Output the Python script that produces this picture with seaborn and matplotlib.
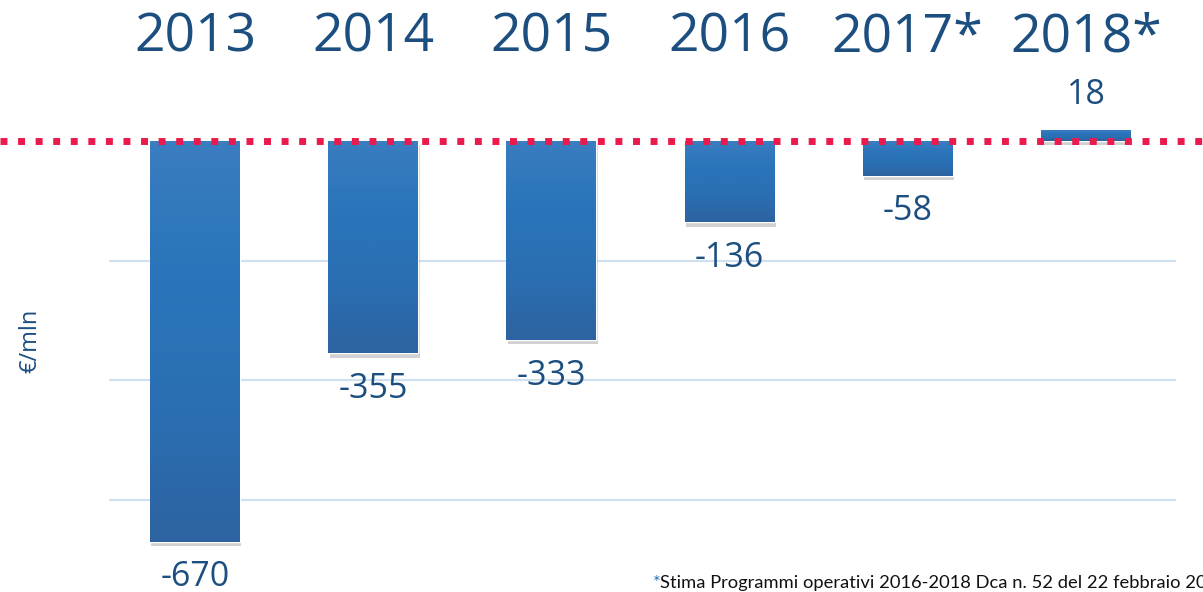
import numpy as np
import pandas as pd
import matplotlib
matplotlib.use("Agg")
import matplotlib.pyplot as plt
import matplotlib.patheffects as pe
from matplotlib.colors import LinearSegmentedColormap
import seaborn as sns

# ─── DATA ─────────────────────────────────────────────────
years = ["2013", "2014", "2015", "2016", "2017*", "2018*"]
values = [-670, -355, -333, -136, -58, 18]
grid_levels = [-200, -400, -600]
ylabel = "€/mln"
footnote = "Stima Programmi operativi 2016-2018 Dca n. 52 del 22 febbraio 2017"

df = pd.DataFrame({"year": years, "value": values})

# ─── STYLE ────────────────────────────────────────────────
sns.set_style("white")
plt.rcParams["font.family"] = ["Open Sans", "DejaVu Sans"]

TEXT_BLUE = "#1c4f80"
BAR_MID = "#2a71b8"
RED = "#ea1a4c"
GRID = "#cfe0f0"

fig = plt.figure(figsize=(12.03, 5.92), dpi=100)
ax = fig.add_axes([0, 0, 1, 1])

sns.barplot(data=df, x="year", y="value", color=BAR_MID, width=0.505,
            saturation=1, ax=ax, zorder=3)

# gradient fill + soft shadow on each bar
grad = LinearSegmentedColormap.from_list(
    "bar", ["#2d63a0", "#2a6fb3", "#2a74bb", "#3a7dc0"])
for p in ax.patches:
    x0, w = p.get_x(), p.get_width()
    y0, h = p.get_y(), p.get_height()
    p.set_path_effects([pe.SimplePatchShadow(offset=(1, -3), shadow_rgbFace="#000000", alpha=0.18),
                        pe.Normal()])
    img = ax.imshow(np.linspace(0, 1, 100).reshape(-1, 1), cmap=grad, aspect="auto",
                    extent=[x0, x0 + w, min(y0, y0 + h), max(y0, y0 + h)],
                    origin="lower", zorder=3.5)
    img.set_clip_path(p)
ax.set_xlim(-1.094, 5.657)
ax.set_ylim(-753.5, 235.6)

# gridlines
for g in grid_levels:
    ax.axhline(g, xmin=0.0914, xmax=0.977, color=GRID, lw=1.6, zorder=1)

# zero line, red dotted
ax.axhline(0, color=RED, lw=5, linestyle=(0, (1, 1.53)), dash_capstyle="butt", zorder=5)

# year headers
for i, y in enumerate(years):
    ax.text(i, 0.936, y, transform=ax.get_xaxis_transform(), ha="center", va="center",
            fontsize=38.5, color=TEXT_BLUE)

# value labels
for i, v in enumerate(values):
    off = 25.5 if v > 0 else -25.5
    ax.annotate(f"{v}", (i, v), xytext=(0, off), textcoords="offset points",
                ha="center", va="center", fontsize=24.5, color=TEXT_BLUE)

# y label
fig.text(0.025, 0.425, ylabel, rotation=90, ha="center", va="center",
         fontsize=17, color=TEXT_BLUE)

# footnote (runs off the right edge as in the source slide)
fig.text(0.543, 0.016, "*", ha="left", va="center", fontsize=13.2,
         color="#2a6fb3", family=["Lato", "DejaVu Sans"])
fig.text(0.549, 0.016, footnote, ha="left", va="center", fontsize=13.2,
         color="#111111", family=["Lato", "DejaVu Sans"])

ax.set_xlabel("")
ax.set_ylabel("")
ax.set_xticks([])
ax.set_yticks([])
sns.despine(ax=ax, left=True, bottom=True)

fig.savefig("out.png", dpi=100)
